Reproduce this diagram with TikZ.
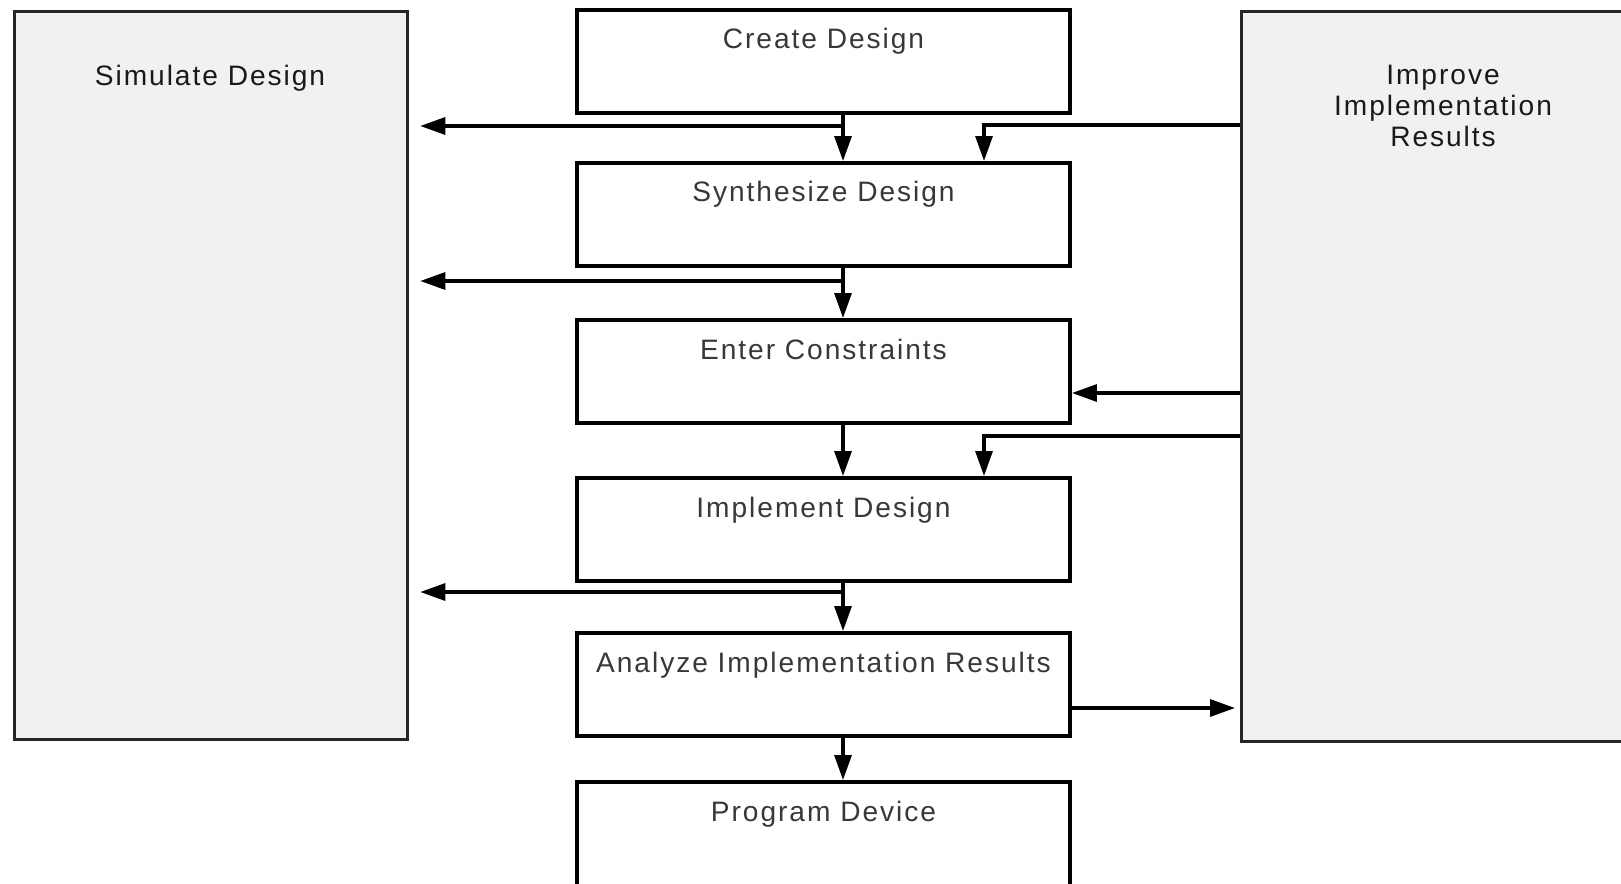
\documentclass[tikz,border=0pt]{standalone}
\usepackage{fontspec}
\setmainfont{Liberation Sans}
\newfontfamily\boxfont{Liberation Sans}[LetterSpace=7]
\usetikzlibrary{arrows.meta,calc}

\begin{document}
\begin{tikzpicture}[x=0.02cm,y=-0.02cm,
  stepbox/.style={draw=black, line width=2.3pt, fill=white, minimum width=9.86cm,
    minimum height=2.06cm, anchor=north west, inner sep=0pt},
  sidebox/.style={draw=black!85, line width=1.9pt, fill=black!5.5,
    anchor=north west, inner sep=0pt},
  title/.style={anchor=base, inner sep=0pt, text=black!78,
    font={\boxfont\fontsize{16}{17.6}\selectfont}},
  sidetitle/.style={anchor=base, inner sep=0pt, text=black!90, align=center,
    font={\boxfont\fontsize{16}{17.6}\selectfont}},
  arr/.style={line width=1.8pt, -{Triangle[length=0.5cm,width=0.34cm]}}
]

\useasboundingbox (0,0) rectangle (1621,883);
\clip (0,0) rectangle (1621,883);

% side panels
\node[sidebox, minimum width=7.86cm, minimum height=14.56cm] (sim) at (13,10) {};
\node[sidebox, minimum width=8.12cm, minimum height=14.6cm] (imp) at (1240,10) {};
\node[sidetitle] (simT) at (210,85) {Simulate Design};
% base of a multi-line node sits on its last line
\node[sidetitle] (impT) at (1443,146) {Improve\\Implementation\\Results};

% flow steps
\node[stepbox] (create) at (575,8) {};
\node[stepbox] (synth) at (575,161) {};
\node[stepbox] (enter) at (575,318) {};
\node[stepbox] (impl) at (575,476) {};
\node[stepbox] (anal) at (575,631) {};
\node[stepbox, minimum height=2.6cm] (prog) at (575,780) {};

\node[title] (createT) at ([yshift=-0.82cm]create.north) {Create Design};
\node[title] (synthT) at ([yshift=-0.82cm]synth.north) {Synthesize Design};
\node[title] (enterT) at ([yshift=-0.82cm]enter.north) {Enter Constraints};
\node[title] (implT) at ([yshift=-0.82cm]impl.north) {Implement Design};
\node[title] (analT) at ([yshift=-0.82cm]anal.north) {Analyze Implementation Results};
\node[title] (progT) at ([yshift=-0.82cm]prog.north) {Program Device};

% columns of the vertical connectors
\coordinate (mainx) at (843,0);
\coordinate (feedx) at (984,0);

% main flow
\draw[arr] (create.south -| mainx) -- (synth.north -| mainx);
\draw[arr] (synth.south -| mainx) -- (enter.north -| mainx);
\draw[arr] (enter.south -| mainx) -- (impl.north -| mainx);
\draw[arr] (impl.south -| mainx) -- (anal.north -| mainx);
\draw[arr] (anal.south -| mainx) -- (prog.north -| mainx);

% taps to simulation
\coordinate (tapA) at (843,126);
\coordinate (tapB) at (843,281);
\coordinate (tapC) at (843,592);
\draw[arr, shorten >=0.22cm] (tapA) -- (tapA -| sim.east);
\draw[arr, shorten >=0.22cm] (tapB) -- (tapB -| sim.east);
\draw[arr, shorten >=0.22cm] (tapC) -- (tapC -| sim.east);

% feedback from improvement
\coordinate (feedA) at (1240,125);
\coordinate (feedB) at (1240,393);
\coordinate (feedC) at (1240,436);
\coordinate (outA) at (1068,708);
\draw[arr] (feedA) -| (synth.north -| feedx);
\draw[arr] (feedB) -- (feedB -| enter.east);
\draw[arr] (feedC) -| (impl.north -| feedx);
\draw[arr, shorten >=0.1cm] (anal.east |- outA) -- (outA -| imp.west);

\end{tikzpicture}
\end{document}
